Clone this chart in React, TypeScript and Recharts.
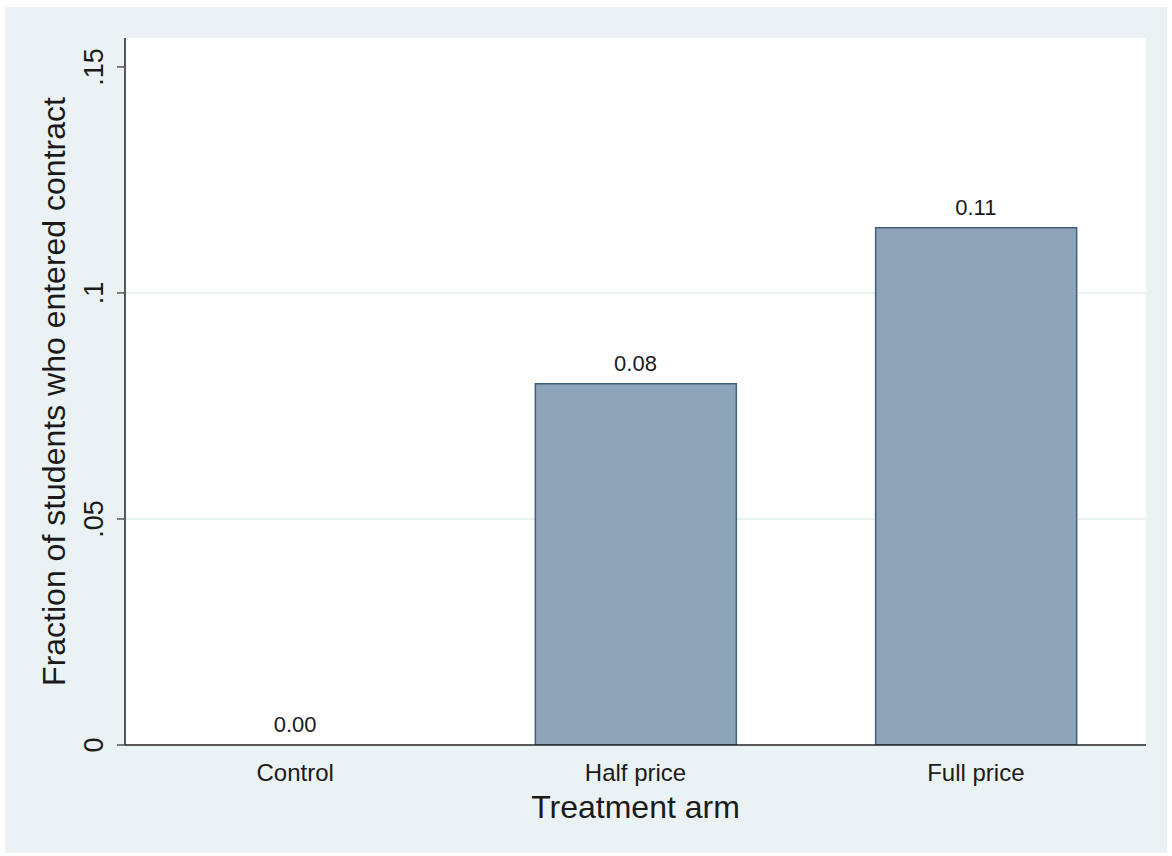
import React from 'react';
import { ComposedChart, Bar, Line, XAxis, YAxis, CartesianGrid, LabelList } from 'recharts';

const arms = ['Control', 'Half price', 'Full price'];
const fractions = [0, 0.0799, 0.1144];
const yTicks = [0, 0.05, 0.1, 0.15];
const gridValues = [0.05, 0.1];

const data = arms.map((arm, i) => ({ arm, value: fractions[i] }));

const font = '"Liberation Sans", Arial, sans-serif';
const ink = '#1a1a1a';

const fmtY = (v: number) => (v === 0 ? '0' : String(v).replace(/^0\./, '.'));

const YTick = (props: any) => {
  const { y, payload } = props;
  const cx = 89;
  return (
    <text
      x={cx}
      y={y}
      transform={`rotate(-90 ${cx} ${y})`}
      textAnchor="middle"
      dominantBaseline="central"
      fontSize={27}
      fontFamily={font}
      fill={ink}
    >
      {fmtY(payload.value)}
    </text>
  );
};

export default function App() {
  return (
    <div style={{ position: 'absolute', left: 0, top: 0, width: 1172, height: 856, background: '#fff' }}>
      <div style={{ position: 'absolute', left: 5, top: 7, width: 1162, height: 846, background: '#EAF2F3' }}>
        <ComposedChart
          width={1162}
          height={846}
          data={data}
          margin={{ top: 31, right: 21, left: 0, bottom: 48 }}
          barCategoryGap={0}
        >
          <CartesianGrid
            fill="#ffffff"
            vertical={false}
            horizontalValues={gridValues}
            stroke="#EAF2F3"
            strokeWidth={2}
          />
          <XAxis
            dataKey="arm"
            height={60}
            tickLine={false}
            axisLine={{ stroke: '#222', strokeWidth: 1.5 }}
            tick={{ fontSize: 24, fontFamily: font, fill: ink }}
            tickMargin={13}
            label={{ value: 'Treatment arm', position: 'center', dy: 32, fontSize: 32, fontFamily: font, fill: ink }}
          />
          <YAxis
            width={120}
            domain={[0, 0.1564]}
            ticks={yTicks}
            allowDataOverflow
            tick={<YTick />}
            tickSize={8}
            tickLine={{ stroke: '#555', strokeWidth: 1.5 }}
            axisLine={{ stroke: '#222', strokeWidth: 1.5 }}
            label={{
              value: 'Fraction of students who entered contract',
              angle: -90,
              position: 'center',
              dx: -11,
              fontSize: 32,
              fontFamily: font,
              fill: ink,
            }}
          />
          <Bar dataKey="value" barSize={201} fill="#8EA4B9" stroke="#41607F" strokeWidth={1.5} isAnimationActive={false} />
          <Line
            dataKey="value"
            stroke="none"
            dot={false}
            activeDot={false}
            legendType="none"
            isAnimationActive={false}
          >
            <LabelList
              dataKey="value"
              position="top"
              offset={13}
              formatter={(v: any) => Number(v).toFixed(2)}
              style={{ fontSize: 22, fontFamily: font, fill: ink }}
            />
          </Line>
        </ComposedChart>
      </div>
    </div>
  );
}
